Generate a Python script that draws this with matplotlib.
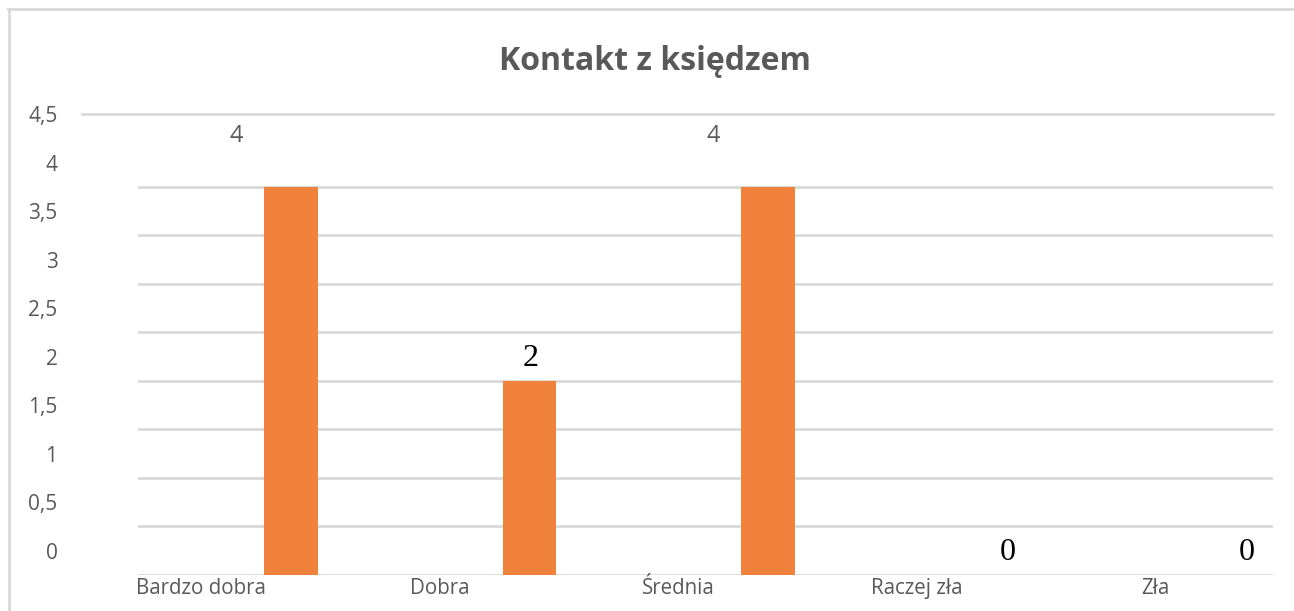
import matplotlib
matplotlib.use("Agg")
import matplotlib.pyplot as plt
from matplotlib.lines import Line2D

# ---- data ----
title = "Kontakt z księdzem"
categories = ["Bardzo dobra", "Dobra", "Średnia", "Raczej zła", "Zła"]
values = [4, 2, 4, 0, 0]
data_labels = ["4", "2", "4", "0", "0"]
ytick_labels = ["0", "0,5", "1", "1,5", "2", "2,5", "3", "3,5", "4", "4,5"]
grid_values = [0, 0.5, 1, 1.5, 2, 2.5, 3, 3.5, 4]

# ---- style ----
W, H = 1294, 611
BAR_COLOR = "#F0823C"
GRID_COLOR = "#D9D9D9"
TEXT_GRAY = "#595959"
SANS = ["Open Sans", "DejaVu Sans"]
SERIF = ["Liberation Serif", "DejaVu Serif"]

fig = plt.figure(figsize=(W / 100, H / 100), dpi=100)
fig.patch.set_facecolor("white")

x0, x1 = 138, 1273
y_base, y_top = 575, 114
ax = fig.add_axes([x0 / W, (H - y_base) / H, (x1 - x0) / W, (y_base - y_top) / H])
ax.set_facecolor("white")
for s in ax.spines.values():
    s.set_visible(False)

xs = list(range(len(categories)))
ax.set_xlim(-0.6415, 4.117)
ax.set_ylim(0, 4.75)

for g in grid_values:
    ax.axhline(g, color=GRID_COLOR, lw=2, zorder=0)
# top line, extending left
ax.axhline(4.75, xmin=(82 - x0) / (x1 - x0), xmax=1.0, color=GRID_COLOR,
           lw=2, zorder=0, clip_on=False)

ax.bar(xs, values, width=0.226, color=BAR_COLOR, zorder=2)

# y tick labels (shifted half a step as in the reference)
ax.set_yticks([0.25 + 0.5 * i for i in range(len(ytick_labels))])
ax.set_yticklabels(ytick_labels, family=SANS, fontsize=15, color=TEXT_GRAY)
ax.tick_params(axis="y", length=0, pad=58)

# category labels
ax.set_xticks([x - 0.377 for x in xs])
ax.set_xticklabels(categories, family=SANS, fontsize=14.8, color=TEXT_GRAY)
ax.tick_params(axis="x", length=0, pad=2)

# data labels
for x, v, lab in zip(xs, values, data_labels):
    if v == 4:
        ax.text(x - 0.23, v + 0.52, lab, ha="center", va="center",
                family=SANS, fontsize=17, color=TEXT_GRAY)
    else:
        ax.text(x + 0.005, v + 0.23, lab, ha="center", va="center",
                family=SERIF, fontsize=23, color="black")

# title
fig.text(655 / W, 1 - 62 / H, title, ha="center", va="center",
         family=SANS, fontsize=23, fontweight="bold", color=TEXT_GRAY)

# outer border (top and left)
fig.add_artist(Line2D([8 / W, 1.0], [1 - 9 / H, 1 - 9 / H], color=GRID_COLOR, lw=2))
fig.add_artist(Line2D([9 / W, 9 / W], [0, 1 - 9 / H], color=GRID_COLOR, lw=2))

fig.savefig("out.png", dpi=100, facecolor="white")
